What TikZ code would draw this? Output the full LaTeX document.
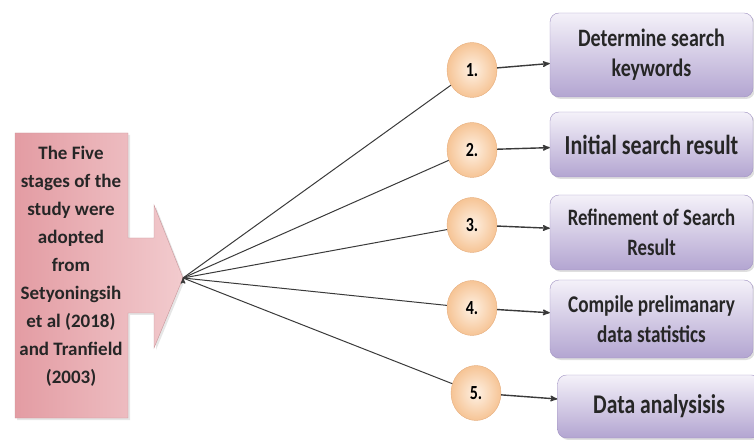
\documentclass[tikz,border=0pt]{standalone}
\usepackage{fontspec}
\setmainfont[FakeStretch=0.8]{Carlito}
\newfontfamily\introfont{Carlito}
\usepackage{tikz}
\usetikzlibrary{arrows,shapes.geometric,shadows}
\usetikzlibrary{positioning}
\definecolor{pinkL}{HTML}{E39CA3}
\definecolor{pinkR}{HTML}{F2CBCE}
\definecolor{pinkEdge}{HTML}{C7959A}
\definecolor{peachIn}{HTML}{FEF1E4}
\definecolor{peachOut}{HTML}{F6C495}
\definecolor{peachEdge}{HTML}{E6AE7E}
\definecolor{lilacTop}{HTML}{F4F1F9}
\definecolor{lilacBot}{HTML}{B3A5D1}
\definecolor{lilacEdge}{HTML}{A092C2}
\definecolor{inkgray}{HTML}{3A3A3A}
\tikzset{
    stage/.style={
           ellipse,
           minimum width=50pt,
           minimum height=55pt,
           inner sep=0pt,
           draw=peachEdge,
           inner color=peachIn, outer color=peachOut,
           font=\bfseries\fontsize{20}{20}\selectfont,
           },
    task/.style={
           rectangle,
           rounded corners=9pt,
           minimum width=203pt,
           draw=lilacEdge,
           top color=lilacTop, bottom color=lilacBot,
           align=center,
           text=black!85,
           drop shadow={opacity=0.25, shadow xshift=2pt, shadow yshift=-2pt},
           },
    link/.style={
           draw=inkgray,
           line width=1pt,
           },
}

\begin{document}
\begin{tikzpicture}[->,>=stealth', x=1pt, y=1pt]
        \useasboundingbox (0,0) rectangle (754,439);

        % BIG PINK ARROW
        % rectangle with the arrow head glued on its right side
        \path[draw=pinkEdge, left color=pinkL, right color=pinkR,
              drop shadow={opacity=0.2, shadow xshift=2pt, shadow yshift=-2pt}]
            (15,306) -- (128,306) -- (128,201) -- (154,201) -- (154,234)
            -- (183,161) -- (154,91) -- (154,126) -- (128,126) -- (128,21)
            -- (15,21) -- cycle;
        \coordinate (tip) at (183,161);

        % text of the pink box
        \node[align=center, text=black!85,
            font=\introfont\bfseries\fontsize{19}{28}\selectfont] (intro) at (71,173)
        {The Five\\stages of the\\study were\\adopted\\from\\Setyoningsih\\et al (2018)\\and Tranfield\\(2003)};

        % STAGE CIRCLES
        \node[stage] (c1) at (472,369) {1.};
        \node[stage,
            below of=c1,
            node distance=80pt] (c2) {2.};
        \node[stage,
            below of=c2,
            node distance=75pt] (c3) {3.};
        \node[stage,
            below of=c3,
            node distance=83pt] (c4) {4.};
        \node[stage,
            below of=c4,
            node distance=85pt,
            xshift=4pt] (c5) {5.};

        % TASK BOXES
        \node[task, minimum height=84pt,
            font=\bfseries\fontsize{25}{30}\selectfont] (b1) at (651.5,384)
        {Determine search\\keywords};
        \node[task, minimum height=65pt,
            font=\bfseries\fontsize{27.5}{30}\selectfont] (b2) at (651.5,294.5)
        {Initial search result};
        \node[task, minimum height=75pt,
            font=\bfseries\fontsize{23.5}{30}\selectfont] (b3) at (651.5,206.5)
        {Refinement of Search\\Result};
        \node[task, minimum height=78pt,
            font=\bfseries\fontsize{24}{30}\selectfont] (b4) at (651.5,120)
        {Compile prelimanary\\data statistics};
        \node[task, minimum height=63pt,
            font=\bfseries\fontsize{27}{30}\selectfont] (b5) at (659,32.5)
        {Data analysisis};

        % fan from the arrow tip
        \path[link]
        (tip)   edge[-] (c1)
        (tip)   edge[-] (c2)
        (tip)   edge[-] (c3)
        (tip)   edge[-] (c4)
        (tip)   edge[-] (c5)
        ;
        % arrows to the boxes
        \path[link, line width=1.4pt]
        (c1)    edge (b1)
        (c2)    edge (b2)
        (c3)    edge (b3)
        (c4)    edge (b4)
        (c5)    edge (b5)
        ;
\end{tikzpicture}
\end{document}
